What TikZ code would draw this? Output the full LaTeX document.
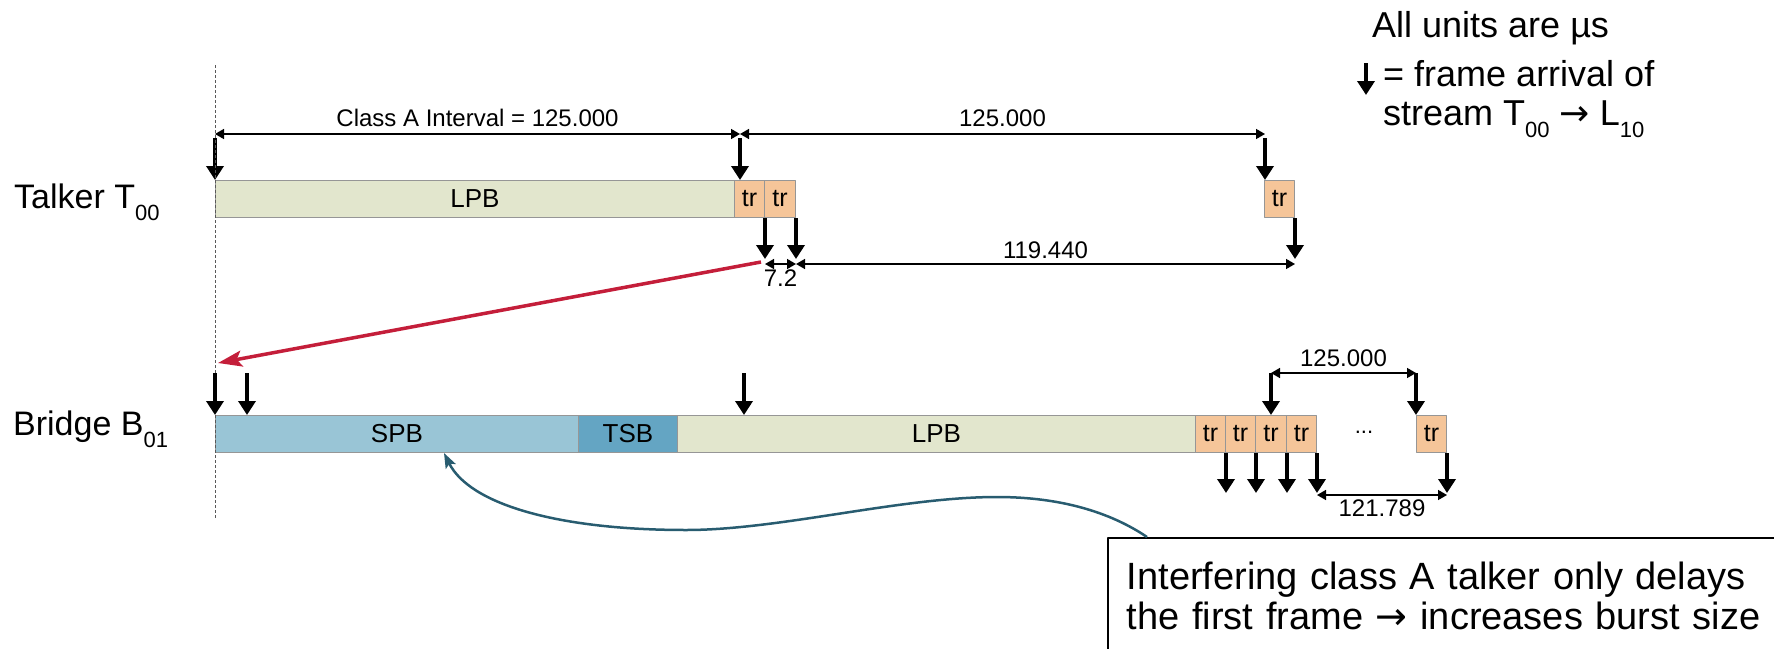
\documentclass[tikz,border=0pt]{standalone}
\usepackage{fontspec}
\setmainfont{Liberation Sans}
\newfontfamily\arrowfont{DejaVu Sans}
\usetikzlibrary{arrows.meta}
\definecolor{lpbfill}{RGB}{226,230,205}
\definecolor{trfill}{RGB}{245,197,153}
\definecolor{spbfill}{RGB}{153,197,214}
\definecolor{tsbfill}{RGB}{100,165,195}
\definecolor{boxline}{RGB}{150,150,150}
\definecolor{hopred}{RGB}{196,30,58}
\definecolor{noteteal}{RGB}{40,92,112}
\newcommand{\fsz}[1]{\fontsize{#1}{#1}\selectfont}
\newcommand{\lowsub}[1]{\raisebox{-12pt}{\fsz{22}#1}}

\begin{document}
\begin{tikzpicture}[x=1pt,y=-1pt,line join=round,
	slot/.style={draw=boxline,line width=1pt,anchor=north west,minimum height=37pt,inner sep=0pt,font=\fsz{26}},
	trslot/.style={slot,fill=trfill,minimum width=30pt,font=\fsz{25}},
	arrival/.style={line width=3.5pt,-{Triangle[width=17pt,length=14pt]}},
	dim/.style={line width=1.5pt,{Triangle[width=10pt,length=9pt]}-{Triangle[width=10pt,length=9pt]}},
	dimtext/.style={font=\fsz{24},inner sep=0pt,anchor=base},
	rowname/.style={font=\fsz{34},inner sep=0pt,anchor=base west},
	legend/.style={font=\fsz{36},inner sep=0pt,anchor=base west}]
	\useasboundingbox (0,0) rectangle (1774,648);
	\clip (0,0) rectangle (1774,648);
	% legend
	\node[legend] (units) at (1372,37) {All units are µs};
	\node[legend] (arrmean) at (1383,86) {= frame arrival of};
	\node[legend] (strm) at (1383,125) {stream T\lowsub{00} {\arrowfont →} L\lowsub{10}};
	\draw[arrival] ([xshift=-17pt,yshift=23pt]arrmean.base west) -- ([xshift=-17pt,yshift=-9pt]arrmean.base west);
	% talker row
	\node[rowname] (talker) at (14,208) {Talker T\lowsub{00}};
	\node[slot,fill=lpbfill,minimum width=519pt] (lpbT) at (215,180) {LPB};
	\node[trslot] (trT1) at (734,180) {tr};
	\node[trslot,minimum width=31pt] (trT2) at (764,180) {tr};
	\node[trslot] (trT3) at (1264,180) {tr};
	\coordinate (tA) at (lpbT.north west);
	\coordinate (tB) at ([xshift=6pt]trT1.north west);
	\coordinate (tC) at ([xshift=1pt]trT3.north west);
	\foreach \arr in {tA,tB,tC}
		\draw[arrival] ([yshift=42pt]\arr) -- (\arr);
	\draw[dim] ([yshift=46pt]tA) -- ([yshift=46pt]tB) node[dimtext,midway,yshift=8pt] {Class A Interval = 125.000};
	\draw[dim] ([yshift=46pt]tB) -- ([yshift=46pt]tC) node[dimtext,midway,yshift=8pt] {125.000};
	\foreach \boxid in {trT1,trT2,trT3}
		\draw[arrival] (\boxid.south east) -- ([yshift=-41pt]\boxid.south east);
	\draw[dim] ([yshift=-46pt]trT1.south east) -- ([yshift=-46pt]trT2.south east) node[dimtext,midway,yshift=-22pt] {7.2};
	\draw[dim] ([yshift=-46pt]trT2.south east) -- ([yshift=-46pt]trT3.south east) node[dimtext,midway,yshift=6pt] {119.440};
	% bridge row
	\node[rowname] (bridge) at (13,435) {Bridge B\lowsub{01}};
	\node[slot,fill=spbfill,minimum width=363pt] (spb) at (215,415) {SPB};
	\node[slot,fill=tsbfill,minimum width=99pt] (tsb) at (578,415) {TSB};
	\node[slot,fill=lpbfill,minimum width=518pt] (lpbB) at (677,415) {LPB};
	\node[trslot] (trB1) at (1195,415) {tr};
	\node[trslot] (trB2) at (1225,415) {tr};
	\node[trslot,minimum width=31pt] (trB3) at (1255,415) {tr};
	\node[trslot] (trB4) at (1286,415) {tr};
	\node[font=\fsz{22},inner sep=0pt] (gap) at (1364,432) {...};
	\node[trslot] (trB5) at (1416,415) {tr};
	\draw[dashed,dash pattern=on 3pt off 2pt,line width=1pt,black!65] ([yshift=115pt]lpbT.north west) -- ([yshift=-66pt]spb.south west);
	\coordinate (bA) at (spb.north west);
	\coordinate (bB) at ([xshift=32pt]spb.north west);
	\coordinate (bC) at ([xshift=67pt]lpbB.north west);
	\foreach \arr in {bA,bB,bC}
		\draw[arrival] ([yshift=42pt]\arr) -- (\arr);
	\draw[arrival] ([yshift=42pt]trB3.north) -- (trB3.north);
	\draw[arrival] ([yshift=42pt]trB5.north west) -- (trB5.north west);
	\draw[dim] ([yshift=42pt]trB3.north) -- ([yshift=42pt]trB5.north west) node[dimtext,midway,yshift=7pt] {125.000};
	\foreach \boxid in {trB1,trB2,trB3,trB4,trB5}
		\draw[arrival] (\boxid.south east) -- ([yshift=-40pt]\boxid.south east);
	\draw[dim] ([yshift=-42pt]trB4.south east) -- ([yshift=-42pt]trB5.south east) node[dimtext,midway,yshift=-21pt] {121.789};
	% talker frame forwarded to the bridge
	\draw[hopred,line width=3.5pt,-{Stealth[length=24pt,width=16pt,inset=5pt]}] ([xshift=-4pt,yshift=-44pt]trT1.south east) -- ([xshift=3pt,yshift=52pt]spb.north west);
	% note
	\node[draw,line width=1.5pt,anchor=north west,align=left,text width=680pt,inner xsep=19pt,inner ysep=24pt,font={\fontsize{38}{40}\selectfont}] (note) at (1107,537) {Interfering class A talker only delays\\the first frame {\arrowfont →} increases burst size};
	\draw[noteteal,line width=2.5pt,-{Stealth[length=15pt,width=11pt,inset=3pt]}] ([xshift=40pt]note.north west) .. controls (1110,512) and (1060,497) .. (997,497) .. controls (900,497) and (780,530) .. (686,530) .. controls (560,530) and (470,505) .. ([xshift=47pt]spb.south);
\end{tikzpicture}
\end{document}
